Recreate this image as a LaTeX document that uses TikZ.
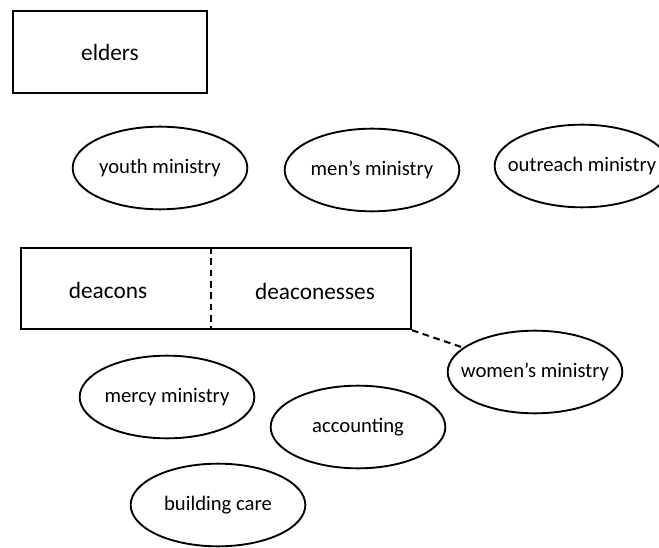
\documentclass[tikz,border=0pt]{standalone}
\usepackage{fontspec}
\setmainfont{Carlito}
\usetikzlibrary{shapes.geometric}
\begin{document}
\begin{tikzpicture}[x=0.75pt,y=-0.75pt,
        every node/.style={font=\fontsize{15.5}{18}\selectfont},
        big/.style={font=\fontsize{17.5}{20}\selectfont},
        board/.style={draw,line width=1.4pt,minimum height=61pt,inner sep=0pt,big},
        ministry/.style={ellipse,draw,line width=1.4pt,minimum width=131pt,minimum height=62pt,inner ysep=0pt,inner xsep=-10pt},
        link/.style={line width=1.5pt,dash pattern=on 5pt off 3.5pt}]
    \useasboundingbox (0,0) rectangle (659,548);
    \node[board,minimum width=146pt] (elders) at (110,52) {elders};
    \node[ministry] (youth) at (160,168) {youth ministry};
    \node[ministry] (men) at (372,170) {men’s ministry};
    \node[ministry] (outreach) at (582,166) {outreach ministry};
    % deacons and deaconesses share one box
    \node[board,minimum width=292.5pt,anchor=north west] (deacbox) at (20,247) {};
    \node[big] (deacons) at (108,290) {deacons};
    \node[big] (deaconesses) at (315,291) {deaconesses};
    \draw[link] (deacbox.north west) ++(191,0) coordinate (split) -- (split |- deacbox.south);
    \node[ministry] (women) at (535,372) {women’s ministry};
    \node[ministry] (mercy) at (167,397) {mercy ministry};
    \node[ministry] (accounting) at (358,427) {accounting};
    \node[ministry] (building) at (218,505) {building care};
    \draw[link] (deacbox.south east) -- (women);
\end{tikzpicture}
\end{document}
